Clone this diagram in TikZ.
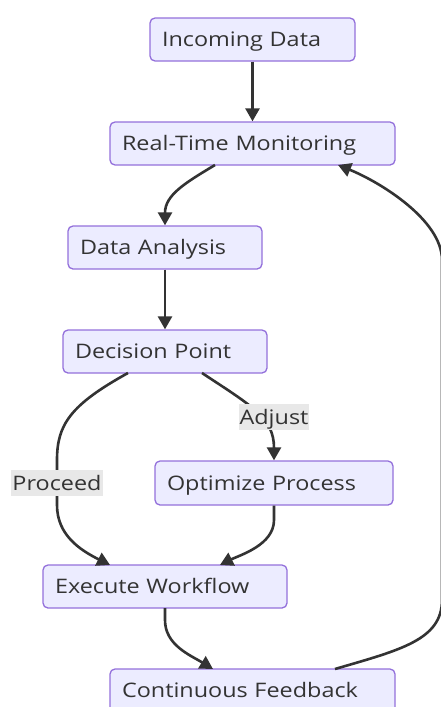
\documentclass[tikz,border=0pt]{standalone}
\usepackage{fontspec}
\setmainfont{Open Sans}[FakeStretch=1.17]
\usetikzlibrary{arrows.meta}
\definecolor{boxfill}{HTML}{ECECFF}
\definecolor{boxdraw}{HTML}{9370DB}
\definecolor{ink}{HTML}{333333}
\definecolor{lblbg}{HTML}{E8E8E8}
\tikzset{
  box/.style={draw=boxdraw, fill=boxfill, line width=1.3pt, rounded corners=5pt,
    minimum height=43pt, inner xsep=12pt, inner ysep=0pt, align=left,
    text height=14.3pt, text depth=0pt,
    text=ink, font=\fontsize{20}{24}\selectfont},
  lbl/.style={fill=lblbg, inner xsep=1pt, inner ysep=0pt, minimum height=26pt,
    text height=14.3pt, text depth=0pt, text=ink, font=\fontsize{20}{24}\selectfont},
  edge/.style={draw=ink, line width=2.6pt, -{Triangle[length=13pt,width=14pt]}},
}
\begin{document}
\begin{tikzpicture}[x=1pt,y=-1pt]
\useasboundingbox (0,0) rectangle (440,707);
\node[box, text width=181pt] (in) at (252.5,39.5) {Incoming Data};
\node[box, text width=261pt] (rtm) at (252.5,143.5) {Real-Time Monitoring};
\node[box, text width=170pt] (da) at (165,247.5) {Data Analysis};
\node[box, text width=180pt] (dp) at (165,351.5) {Decision Point};
\node[box, text width=214pt, minimum height=44pt] (op) at (274,483) {Optimize Process};
\node[box, text width=220pt] (ew) at (165,586.5) {Execute Workflow};
\node[box, text width=261pt] (cf) at (252.5,690.5) {Continuous Feedback};

\coordinate (rtmL) at (215,165);
\coordinate (rtmR) at (338,165);
\coordinate (dpR) at (202,373);
\coordinate (dpL) at (128,373);
\coordinate (ewL) at (110,565);
\coordinate (ewR) at (220,565);
\coordinate (ewB) at (165,608);
\coordinate (cfL) at (213,669);
\coordinate (cfR) at (335,669);

\draw[edge] (in) -- (rtm);
\draw[edge] (rtmL) .. controls (185,183) and (165,195) .. (da.north);
\draw[edge] (da) -- (dp);
\draw[edge] (dpR) .. controls (252,406) and (274,418) .. (op.north);
\draw[edge] (dpL) .. controls (70,405) and (57,425) .. (57,460) -- (57,505) .. controls (57,535) and (80,550) .. (ewL);
\draw[edge] (op.south) -- (274,520) .. controls (274,545) and (240,555) .. (ewR);
\draw[edge] (ewB) -- (165,620) .. controls (165,645) and (190,655) .. (cfL);
\draw[edge] (cfR) .. controls (400,650) and (442,640) .. (442,600) -- (442,260) .. controls (442,220) and (380,182) .. (rtmR);

\node[lbl] (adj) at (274,417) {Adjust};
\node[lbl] (pro) at (57,483) {Proceed};
\end{tikzpicture}
\end{document}
